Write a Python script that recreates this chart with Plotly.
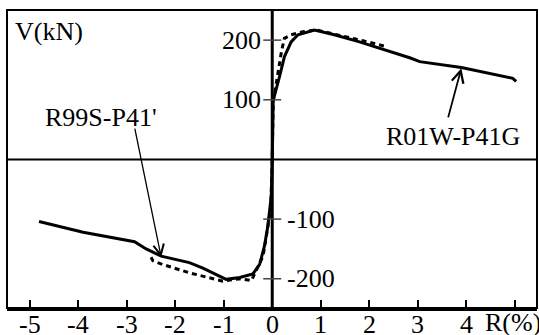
import plotly.graph_objects as go

# Shear force V (kN) versus drift ratio R (%) for two specimens
r01w_drift = [-4.81, -3.90, -2.84, -2.60, -2.29, -1.71, -1.43, -0.95, -0.67, -0.40,
              -0.26, -0.16, -0.09, -0.02, 0.0, 0.02, 0.15, 0.25, 0.39, 0.53,
              0.87, 1.28, 1.80, 2.35, 2.85, 3.04, 3.90, 4.96, 5.03]
r01w_shear = [-104, -122, -138, -150, -162, -173, -182, -201, -198, -192,
              -176, -145, -111, -61, 0, 99, 139, 172, 197, 209,
              217, 209, 197, 183, 170, 164, 154, 136, 131]

r99s_drift = [-2.50, -2.46, -2.26, -1.71, -1.02, -0.67, -0.43, -0.19, -0.12, -0.03,
              0.0, 0.02, 0.06, 0.12, 0.19, 0.25, 0.39, 0.63, 0.91, 1.87, 2.14, 2.36]
r99s_shear = [-164, -170, -176, -190, -204, -200, -203, -162, -128, -80,
              0, 99, 116, 150, 181, 203, 209, 214, 217, 199, 194, 189]

x_ticks = [-5, -4, -3, -2, -1, 0, 1, 2, 3, 4, 5]
x_tick_text = ["-5", "-4", "-3", "-2", "-1", "0", "1", "2", "3", "4"]
y_ticks = [200, 100, -100, -200]

FONT = "Liberation Serif, Times New Roman, Times, DejaVu Serif, serif"
FS = 26
TXT = dict(family=FONT, size=FS, color="black")

fig = go.Figure()
fig.add_trace(go.Scatter(x=r99s_drift, y=r99s_shear, mode="lines",
                         line=dict(color="black", width=3, dash="5px,4px"),
                         name="R99S-P41'"))
fig.add_trace(go.Scatter(x=r01w_drift, y=r01w_shear, mode="lines",
                         line=dict(color="black", width=3),
                         name="R01W-P41G"))

shapes = [
    # frame
    dict(type="rect", xref="paper", yref="paper", x0=0, x1=1, y0=0, y1=1,
         line=dict(color="black", width=2)),
    # axes through origin
    dict(type="line", xref="x", yref="paper", x0=0, x1=0, y0=0, y1=1,
         line=dict(color="black", width=3)),
    dict(type="line", xref="paper", yref="y", x0=0, x1=1, y0=0, y1=0,
         line=dict(color="black", width=2)),
]
for v in y_ticks:
    shapes.append(dict(type="line", xref="x", yref="y", xsizemode="pixel", xanchor=0,
                       x0=-9, x1=9, y0=v, y1=v, line=dict(color="#444", width=1.5)))

annotations = []
for v in y_ticks:
    if v > 0:
        annotations.append(dict(x=0, y=v, xref="x", yref="y", text=str(v), showarrow=False,
                                xanchor="right", xshift=-9, font=TXT))
    else:
        annotations.append(dict(x=0, y=v, xref="x", yref="y", text=str(v), showarrow=False,
                                xanchor="left", xshift=13, font=TXT))

# drift tick labels under the bottom axis
for v, t in zip(x_ticks, x_tick_text):
    annotations.append(dict(x=v, y=0, xref="x", yref="paper", text=t, showarrow=False,
                            xanchor="center", yanchor="top", yshift=0, font=TXT))

annotations += [
    dict(x=0, y=1, xref="paper", yref="paper", text="V(kN)", showarrow=False,
         xanchor="left", yanchor="top", xshift=6, yshift=-5, font=TXT),
    dict(x=1, y=0, xref="paper", yref="paper", text="R(%)", showarrow=False,
         xanchor="right", yanchor="top", xshift=6, yshift=2, font=TXT),
    # specimen labels
    dict(x=-3.54, y=71, xref="x", yref="y", text="R99S-P41'", showarrow=False, font=TXT),
    dict(x=3.72, y=38, xref="x", yref="y", text="R01W-P41G", showarrow=False, font=TXT),
    # leader arrows
    dict(x=-2.29, y=-164, ax=-2.84, ay=54, xref="x", yref="y", axref="x", ayref="y",
         text="", showarrow=True, arrowhead=5, arrowsize=1.6, arrowwidth=1.3, arrowcolor="black"),
    dict(x=3.90, y=153, ax=3.62, ay=68, xref="x", yref="y", axref="x", ayref="y",
         text="", showarrow=True, arrowhead=5, arrowsize=1.3, arrowwidth=1.8, arrowcolor="black"),
]

fig.update_layout(
    width=539, height=335,
    margin=dict(l=7, r=2, t=10, b=27),
    paper_bgcolor="white", plot_bgcolor="white",
    showlegend=False,
    shapes=shapes, annotations=annotations,
    font=TXT,
    xaxis=dict(range=[-5.47, 5.46], tickvals=x_ticks, showticklabels=False,
               ticks="inside", ticklen=8, tickwidth=2, tickcolor="black",
               showline=True, linewidth=3, linecolor="black",
               showgrid=False, zeroline=False, automargin=False),
    yaxis=dict(range=[-249, 250.5], showticklabels=False, ticks="",
               showgrid=False, zeroline=False, showline=False, automargin=False),
)

fig.write_html("out.html")
